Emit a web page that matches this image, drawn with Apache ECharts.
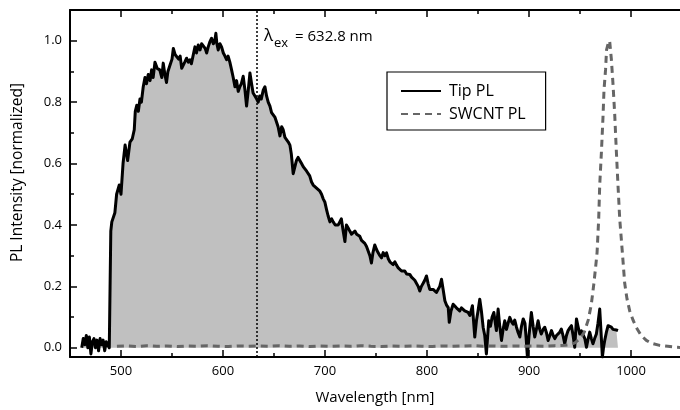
<!DOCTYPE html>
<html>
<head>
<meta charset="utf-8">
<script src="https://cdn.jsdelivr.net/npm/echarts@6/dist/echarts.min.js"></script>
<style>html,body{margin:0;padding:0;background:#fff;}#c{width:680px;height:410px;}</style>
</head>
<body>
<div id="c"></div>
<script>
// ---- data ----
const tipWavelength = [461.5,463,464.5,466,467.5,469,470.5,472,473.5,475,476.5,478,479.5,481,482.5,484,485.5,487,488.5,
490,491,494,495.7,498.3,500,502,504,506.5,508.8,511,513,514,515.5,517,518.6,520,521.8,523.5,525,526.7,528.5,530,531.5,533.3,535.5,538,540,541.4,543,544.6,546,548,550,551.3,553,554.6,556.5,558,559.5,561,562.5,564.3,566,567.6,569,570.8,572.5,574,575.7,577.5,579,580.6,582.5,584,585.5,587,588.8,590.5,592,593,594,595.3,597,598.6,600.3,601.9,603.5,605,606.7,608.4,610,611.7,613.3,614.9,616.5,618,619.8,621.5,623.1,624.8,626.4,628,629.5,631.3,633,634.5,636,637.5,639.5,641.1,642.7,644.3,646,647.6,649.2,651,652.5,654,655.8,657.5,659,660.7,662.5,664,665.6,667,668.8,670.5,672,673.6,675.3,677,678.6,680.3,682,683.5,685,686.8,688.4,690,691.7,693.3,695,696.6,698.2,699.8,701.5,703,704.8,706.5,708,710,711.5,713,714.5,716,717.8,719.5,721,722.7,724.3,726,727.6,729.3,731,732.5,734.1,735.8,737.4,739,740.7,742.3,744,745.5,747,748.8,750.5,752,753.8,755.4,757,758.7,760.3,762,763.6,765.2,766.8,768.5,770,771.8,773.4,775,776.6,778.2,780,781.5,783.1,784.8,786.4,788,789.7,791.3,792.9,794.5,796.2,797.8,799.5,801,802.7,804.3,806,807.6,809.2,810.9,812.5,814.2,815.8,817.5,819,820.8,821.8,823.5,825.6,827.2,828.8,830.5,832,833.7,835.4,837,838.5,840.3,842,843.2,844.5,846.8,848.5,850,851.7,853.3,855,856.6,858.2,860.5,862.2,863.8,865.5,868,869.7,871.3,873,874.6,876.2,877.9,879.5,881.1,882.8,884.4,886,887.7,889.3,891,892.6,894.3,896,897.2,898.4,900,902.3,904,905.6,907.2,908.9,910.5,912,913.8,915.4,917,918.7,920.4,922,923.7,925.3,926.9,928.4,930,931.7,933.3,935,936.7,938.3,940,941.6,943.2,944.8,946.5,948,949.7,951.3,953,954.7,956.3,958,959.5,961.1,962.7,964.3,966,967.6,969.3,970.6,971.9,973,974.2,975.8,977.5,979,980.7,982.3,984,985.6,987.2];
const tipIntensity = [0.00,0.03,0.01,0.04,0.00,0.035,-0.02,0.02,0.03,0.00,0.025,-0.01,0.03,0.01,0.025,-0.01,0.02,0.01,0.00,
0.38,0.41,0.44,0.50,0.53,0.50,0.60,0.66,0.61,0.67,0.68,0.71,0.77,0.79,0.77,0.81,0.80,0.85,0.88,0.86,0.89,0.87,0.905,0.88,0.93,0.91,0.905,0.88,0.927,0.89,0.864,0.90,0.92,0.94,0.975,0.955,0.954,0.94,0.95,0.91,0.916,0.93,0.943,0.93,0.938,0.925,0.927,0.98,0.96,0.986,0.97,0.99,0.99,0.975,0.96,0.98,0.995,1.008,0.99,1.0,1.024,0.99,0.97,0.99,0.98,0.96,0.95,0.938,0.95,0.93,0.905,0.88,0.85,0.87,0.835,0.85,0.86,0.884,0.84,0.787,0.84,0.895,0.86,0.83,0.82,0.81,0.80,0.82,0.81,0.84,0.85,0.82,0.80,0.787,0.766,0.77,0.75,0.744,0.72,0.69,0.72,0.71,0.685,0.68,0.67,0.66,0.63,0.567,0.59,0.61,0.62,0.61,0.60,0.59,0.585,0.575,0.572,0.56,0.54,0.53,0.535,0.52,0.524,0.51,0.50,0.485,0.475,0.45,0.43,0.41,0.42,0.41,0.40,0.405,0.40,0.395,0.42,0.38,0.346,0.40,0.39,0.38,0.37,0.368,0.38,0.37,0.365,0.363,0.35,0.345,0.34,0.33,0.325,0.30,0.276,0.31,0.335,0.32,0.31,0.30,0.293,0.31,0.30,0.309,0.29,0.28,0.285,0.271,0.28,0.27,0.26,0.265,0.25,0.244,0.25,0.24,0.245,0.239,0.23,0.225,0.22,0.217,0.20,0.185,0.20,0.21,0.22,0.234,0.21,0.19,0.185,0.19,0.185,0.18,0.174,0.20,0.223,0.19,0.153,0.14,0.131,0.083,0.12,0.142,0.14,0.13,0.125,0.12,0.13,0.131,0.12,0.126,0.115,0.105,0.12,0.137,0.035,0.09,0.12,0.158,0.12,0.067,0.04,-0.02,0.088,0.07,0.10,0.115,0.056,0.126,0.07,0.024,0.06,0.088,0.06,0.08,0.099,0.085,0.077,0.09,0.067,0.05,0.035,0.07,0.094,0.08,0.03,-0.03,0.04,0.115,0.07,0.035,0.06,0.088,0.06,0.045,0.06,0.067,0.05,0.024,0.04,0.056,0.04,0.03,0.04,0.045,0.05,0.061,0.04,0.013,0.04,0.056,0.065,0.072,0.04,0.002,0.094,0.07,0.045,0.055,0.061,0.03,0.002,0.03,0.051,0.03,0.013,0.03,0.045,0.08,0.126,0.05,-0.03,0.0,0.024,0.05,0.072,0.07,0.067,0.06,0.056,0.058,0.056];

const swcntWavelength = [496,505,515,525,535,545,555,565,575,585,595,605,615,625,635,645,655,665,675,685,695,705,715,725,735,745,755,765,775,785,795,805,815,825,835,845,855,865,875,885,895,905,915,925,935,940,945,950,954,958,961,963.6,965.2,966.7,968.3,969.3,971,972.5,973.5,975,976,977.5,979,980.7,982.3,984,985.6,987.2,988.9,991.5,993.8,996,998.7,1002,1005,1010,1015,1020,1028,1036,1044,1050];
const swcntIntensity = [0.005,0.006,0.004,0.007,0.005,0.006,0.004,0.006,0.005,0.007,0.005,0.004,0.006,0.005,0.006,0.005,0.007,0.005,0.006,0.004,0.006,0.005,0.006,0.005,0.007,0.005,0.004,0.006,0.005,0.006,0.005,0.004,0.006,0.005,0.006,0.007,0.005,0.006,0.005,0.006,0.005,0.006,0.005,0.007,0.008,0.01,0.016,0.03,0.05,0.09,0.14,0.21,0.26,0.31,0.42,0.53,0.64,0.75,0.84,0.905,0.97,0.99,1.0,0.94,0.86,0.76,0.64,0.53,0.42,0.31,0.21,0.16,0.12,0.09,0.067,0.04,0.024,0.015,0.008,0.005,0.002,0.001];

const xMajorTicks = [500,600,700,800,900,1000];
const xMinorTicks = [550,650,750,850,950];
const yMajorTicks = [0,0.2,0.4,0.6,0.8,1.0];
const yMinorTicks = [0.1,0.3,0.5,0.7,0.9];
const excitationWavelength = 632.8;
const seriesNames = ['Tip PL','SWCNT PL'];

// ---- chart ----
const FONT = 'Open Sans';
const zip = (a,b) => a.map((v,i)=>[v,b[i]]);
const xRange = {min:450, max:1048};
const yRange = {min:-0.03, max:1.1};

function xAx(pos, ticks, len, showLine, labels, extra){
  return Object.assign({
    type:'value', position:pos, min:xRange.min, max:xRange.max,
    axisLine:{show:showLine, onZero:false, lineStyle:{color:'#000', width:2}},
    axisTick:{show:true, inside:true, length:len, customValues:ticks, lineStyle:{color:'#000', width:1.5}},
    axisLabel:{show:labels, customValues:ticks, color:'#000', fontFamily:FONT, fontSize:13, margin:8,
      formatter:v=>String(v)},
    splitLine:{show:false}
  }, extra||{});
}
function yAx(ticks, len, showLine, labels, extra){
  return Object.assign({
    type:'value', position:'left', min:yRange.min, max:yRange.max,
    axisLine:{show:showLine, onZero:false, lineStyle:{color:'#000', width:2}},
    axisTick:{show:true, inside:true, length:len, customValues:ticks, lineStyle:{color:'#000', width:1.5}},
    axisLabel:{show:labels, customValues:ticks, color:'#000', fontFamily:FONT, fontSize:13, margin:8,
      formatter:v=>Number(v).toFixed(1)},
    splitLine:{show:false}
  }, extra||{});
}

const chart = echarts.init(document.getElementById('c'), null, {renderer:'canvas'});
chart.setOption({
  animation:false,
  backgroundColor:'#fff',
  grid:{left:70, right:0, top:10, bottom:50, containLabel:false},
  xAxis:[
    xAx('bottom', xMajorTicks, 7, true, true, {name:'Wavelength [nm]', nameLocation:'middle', nameGap:33,
      nameTextStyle:{color:'#000', fontFamily:FONT, fontSize:15}}),
    xAx('bottom', xMinorTicks, 4, false, false),
    xAx('top', xMajorTicks, 7, true, false),
    xAx('top', xMinorTicks, 4, false, false)
  ],
  yAxis:[
    yAx(yMajorTicks, 7, true, true, {name:'PL Intensity [normalized]', nameLocation:'middle', nameGap:44,
      nameTextStyle:{color:'#000', fontFamily:FONT, fontSize:15.5, padding:[0,0,0,22]}}),
    yAx(yMinorTicks, 4, false, false)
  ],
  legend:{
    orient:'vertical', left:387, top:72,
    data:seriesNames,
    itemWidth:40, itemHeight:14, itemGap:7,
    padding:[11,20,8,13],
    borderColor:'#000', borderWidth:1.2,
    itemStyle:{opacity:0},
    textStyle:{color:'#000', fontFamily:FONT, fontSize:16, padding:[0,0,0,3]}
  },
  series:[
    {
      name:seriesNames[0], type:'line', xAxisIndex:0, yAxisIndex:0,
      data:zip(tipWavelength, tipIntensity),
      symbol:'none', showSymbol:false,
      lineStyle:{color:'#000', width:3, join:'round'},
      itemStyle:{color:'#000'},
      areaStyle:{color:'#c0c0c0', opacity:1, origin:0},
      markLine:{
        silent:true, symbol:['none','none'],
        label:{show:false},
        lineStyle:{color:'#000', type:[2,2], width:1.5},
        data:[{xAxis:excitationWavelength}]
      },
      z:2
    },
    {
      name:seriesNames[1], type:'line', xAxisIndex:0, yAxisIndex:0,
      data:zip(swcntWavelength, swcntIntensity),
      symbol:'none', showSymbol:false,
      lineStyle:{color:'#666', width:3, type:[7,5]},
      itemStyle:{color:'#666'},
      z:3
    }
  ],
  graphic:[
    {type:'text', left:264, top:28, style:{text:'\u03bb', fill:'#000', font:'17px "Open Sans"'}},
    {type:'text', left:274, top:37, style:{text:'ex', fill:'#000', font:'13px "Open Sans"'}},
    {type:'text', left:295, top:29, style:{text:'= 632.8 nm', fill:'#000', font:'15px "Open Sans"'}}
  ]
});
</script>
</body>
</html>
